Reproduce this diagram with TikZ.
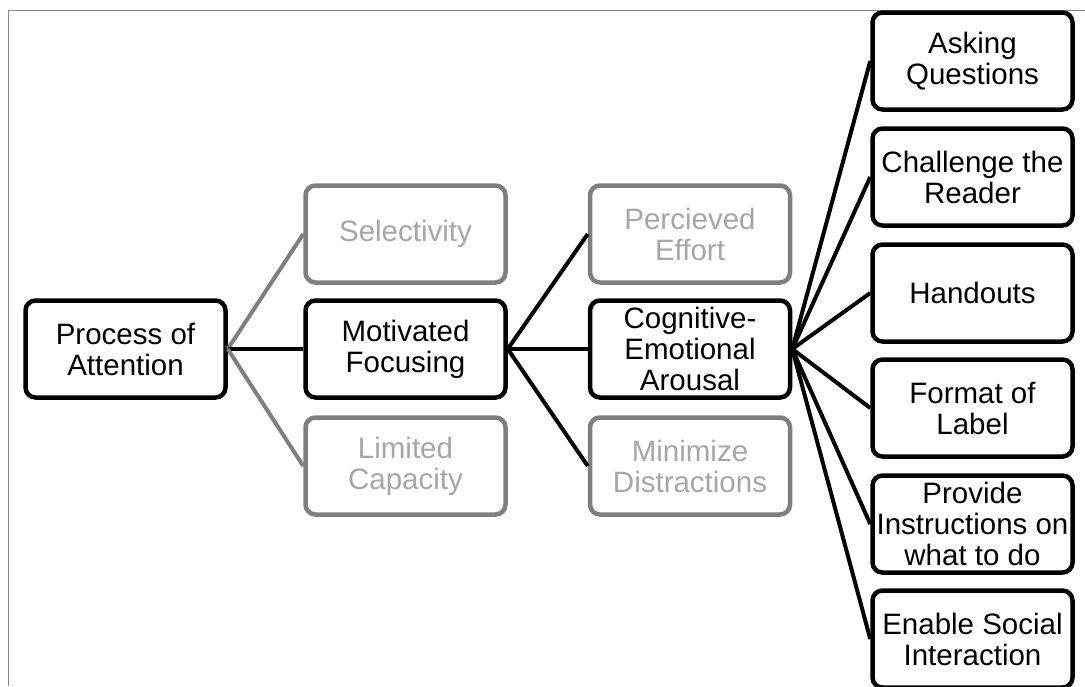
\documentclass[tikz,border=0pt]{standalone}
\usepackage{fontspec}
\setmainfont{Liberation Sans}
\definecolor{boxgray}{HTML}{7F7F7F}
\definecolor{textgray}{HTML}{A6A6A6}
\definecolor{framegray}{HTML}{888888}
\tikzset{
  item/.style={draw=black, line width=4.5pt, rounded corners=10pt,
    minimum width=200pt, minimum height=97pt, inner sep=1pt,
    align=center, text=black, font=\fontsize{29.5}{31}\selectfont},
  faded/.style={item, draw=boxgray, text=textgray},
  link/.style={draw=black, line width=4pt},
  fadedlink/.style={draw=boxgray, line width=4pt},
}
\begin{document}
\begin{tikzpicture}[x=1pt,y=-1pt]
\useasboundingbox (0,0) rectangle (1085,686);
\clip (0,0) rectangle (1085,686);
% page frame (left and top edges)
\draw[framegray, line width=1.5pt] (8.5,686) -- (8.5,10.5) -- (1085,10.5);

% first level
\node[item] (pa) at (125.5,349) {Process of\\Attention};

% second level
\node[faded] (sel) at (405.5,234) {Selectivity};
\node[item]  (mf)  at (405.5,349) {Motivated\\Focusing};
\node[faded] (lc)  at (405.5,466) {Limited\\Capacity};

% third level
\node[faded] (pe)  at (690,234) {Percieved\\Effort};
\node[item]  (cea) at (690,349) {Cognitive-\\Emotional\\Arousal};
\node[faded] (md)  at (690,466) {Minimize\\Distractions};

% fourth level
\node[item] (aq) at (972.5,61)  {Asking\\Questions};
\node[item] (cr) at (972.5,177) {Challenge the\\Reader};
\node[item] (ho) at (972.5,293) {Handouts};
\node[item] (fl) at (972.5,408) {Format of\\Label};
\node[item] (pi) at (972.5,524) {Provide\\Instructions on\\what to do};
\node[item] (es) at (972.5,639) {Enable Social\\Interaction};

% connectors
\draw[fadedlink] (pa.east) -- (sel.west);
\draw[link]      (pa.east) -- (mf.west);
\draw[fadedlink] (pa.east) -- (lc.west);

\draw[link] (mf.east) -- (pe.west);
\draw[link] (mf.east) -- (cea.west);
\draw[link] (mf.east) -- (md.west);

\foreach \t in {aq,cr,ho,fl,pi,es}
  \draw[link] (cea.east) -- (\t.west);
\end{tikzpicture}
\end{document}
